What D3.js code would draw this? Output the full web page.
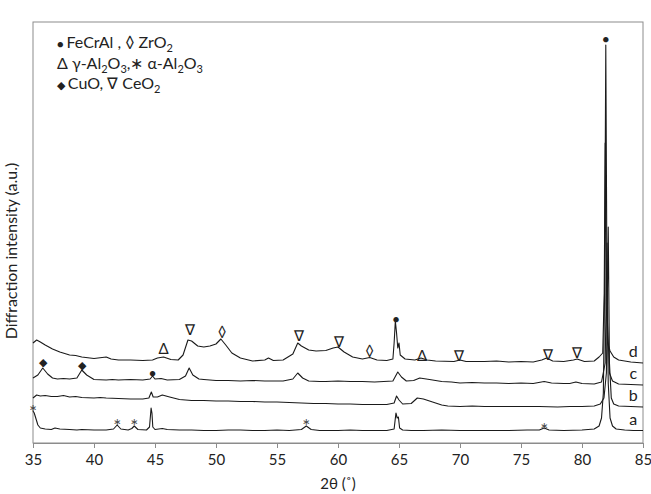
<!DOCTYPE html>
<html>
<head>
<meta charset="utf-8">
<script src="https://cdn.jsdelivr.net/npm/d3@7"></script>
<style>
  body { margin: 0; background: #fff; }
  text { font-family: Lato, "Open Sans", sans-serif; fill: #222; }
</style>
</head>
<body>
<svg id="chart" width="651" height="494"></svg>
<script>

// x ticks (2 theta, degrees)
const xTicks = [35, 40, 45, 50, 55, 60, 65, 70, 75, 80, 85];

// Traces, [2theta, intensity a.u.]
const traceA = [
	[35.0, 32], [35.1, 30], [35.25, 24], [35.4, 18], [35.6, 15], [36, 14], [36.5, 13.5], [36.8, 15],
	[37.2, 14], [38, 13.5], [38.6, 13], [39, 13.5], [40, 13], [41, 13], [41.6, 14], [41.9, 18],
	[42.2, 14], [42.8, 13], [43.1, 14.5], [43.3, 17], [43.6, 13.5], [44.3, 13], [44.55, 16],
	[44.68, 35], [44.75, 30], [44.82, 16], [45, 13.5], [45.6, 14.5], [46, 13.5], [47, 13],
	[48, 13], [49, 12.5], [50, 12.5], [51, 13], [52, 13], [53, 12.5], [54, 12.5], [55, 13],
	[56, 12.5], [57, 13.5], [57.4, 17], [57.8, 13.5], [58.5, 12.5], [60, 12.5], [61, 13],
	[62, 12.5], [63, 12.5], [64, 12.5], [64.6, 14], [64.75, 30], [64.85, 25], [64.95, 26],
	[65.05, 15], [65.3, 13], [66, 12.5], [67, 12.5], [68.5, 13], [70, 12.5], [72, 12.5],
	[74, 12.5], [75.5, 13], [76.5, 13], [76.9, 15], [77.3, 13], [78.5, 12.5], [80, 13],
	[81, 14], [81.4, 17], [81.6, 25], [81.75, 50], [81.85, 150], [81.95, 398], [82.05, 150],
	[82.15, 60], [82.3, 25], [82.5, 17], [82.8, 14], [83.5, 13], [84.2, 12.5], [85, 12.5]
];

const traceB = [
	[35, 45], [35.3, 48], [35.6, 47], [36, 47.5], [36.5, 46.5], [37, 46.5], [37.5, 47.5],
	[38, 46], [38.5, 46.5], [39, 45.5], [40, 45], [40.5, 45.5], [41, 45], [42, 44.5], [43, 44],
	[44, 44], [44.5, 45], [44.7, 51], [44.85, 46], [45.2, 46], [45.6, 48], [46.2, 46], [47, 43.5],
	[48, 42.5], [49, 42.5], [50, 42], [51, 42], [52, 41.5], [53, 41.5], [54, 41], [55, 41],
	[56, 40.5], [57, 40], [58, 39.5], [59, 39.5], [60, 39], [61, 39], [62, 38.5], [63, 38.5],
	[64, 38.5], [64.6, 40], [64.8, 47], [65, 43], [65.3, 39], [66, 39.5], [66.5, 45], [67, 44],
	[67.5, 42], [68, 40], [68.5, 38], [69, 37], [70, 36.5], [71, 37], [72, 36.5], [73.5, 36.5],
	[75, 36.5], [76.5, 36.5], [78, 36], [79, 36.5], [80, 36.5], [81, 37], [81.5, 39], [81.8, 45],
	[82, 70], [82.15, 216], [82.25, 80], [82.4, 45], [82.6, 39], [83, 37], [84, 36.5], [85, 36]
];

const traceC = [
	[35, 65], [35.4, 68], [35.8, 75], [36.2, 69], [36.6, 65], [37, 64], [37.5, 64.5], [38, 64],
	[38.6, 65], [39, 73], [39.4, 68], [40, 63.5], [41, 63], [41.5, 63.5], [42, 63], [43, 63.5],
	[44, 63], [44.6, 64], [44.8, 67], [45, 64], [45.5, 64.5], [46, 63], [47, 63.5], [47.5, 67],
	[47.8, 75], [48.1, 68], [48.6, 64], [49, 63.5], [50, 62.5], [51, 62.5], [52, 62], [53, 62.5],
	[54, 62], [55.5, 62], [56.3, 64], [56.7, 70], [57.1, 65], [57.6, 62], [58.5, 61.5], [59, 61.5],
	[60, 62], [61, 61.5], [62, 61.5], [63, 61], [64.5, 62], [64.9, 71], [65.2, 66], [65.6, 62],
	[66.2, 62.5], [66.7, 65], [67.5, 63.5], [68.5, 61.5], [69.3, 61], [70, 60], [71, 60.5],
	[72, 60], [73, 60], [74, 59.5], [75, 60], [76, 59.5], [76.9, 61.5], [77.5, 60], [78.5, 59.5],
	[79, 59.5], [79.5, 61], [80, 59.5], [81, 59], [81.6, 61], [81.9, 80], [82.0, 160], [82.05, 200],
	[82.1, 120], [82.25, 70], [82.5, 62], [83, 59], [84, 58.5], [85, 58]
];

const traceD = [
	[35, 100], [35.3, 103], [35.6, 101], [36, 98], [36.6, 94], [37.2, 91], [38, 88], [38.5, 87.5],
	[39, 86], [40, 84.5], [41, 86], [41.4, 84], [42, 83], [43, 83], [44, 82.5], [44.8, 83],
	[45.2, 85], [45.7, 86], [46.3, 83.5], [46.9, 83], [47.3, 88], [47.7, 103], [48, 102],
	[48.5, 97], [49, 96], [49.5, 97], [50, 99], [50.4, 104], [50.8, 98], [51.3, 90], [52, 85],
	[53, 82], [54, 83], [54.3, 85], [54.7, 82.5], [55.5, 83], [56.3, 89], [56.7, 100], [57, 97],
	[57.6, 93], [58.2, 92], [59, 92.5], [59.6, 95], [60, 96], [60.5, 91], [61.2, 86], [62, 84],
	[62.6, 85.5], [63.2, 83], [64, 82.5], [64.5, 84], [64.6, 100], [64.7, 122], [64.8, 110],
	[64.9, 95], [65.0, 100], [65.1, 88], [65.5, 84], [66.3, 83], [66.8, 85], [67.3, 83], [68, 82],
	[69.5, 81.5], [70, 83], [70.5, 81.5], [72, 81.5], [73, 82], [74, 81], [75, 81.5], [76, 81],
	[76.7, 83], [77.1, 85], [77.6, 82], [78.5, 81.5], [79.3, 83], [79.6, 84], [80.2, 81.5],
	[81, 82], [81.4, 86], [81.7, 90], [81.82, 150], [81.9, 300], [81.98, 140], [82.1, 100],
	[82.3, 92], [82.6, 86], [83, 83], [84, 81], [85, 80]
];

const traceNames = ["a", "b", "c", "d"];
const traces = [traceA, traceB, traceC, traceD];

// Phase markers: [symbol, 2theta, intensity]
const markers = [
	["*", 35.0, 36], ["*", 41.9, 22], ["*", 43.3, 22], ["*", 57.4, 22], ["*", 76.9, 18],
	["◆", 35.8, 82], ["◆", 39.0, 79], ["●", 44.8, 71],
	["Δ", 45.7, 95], ["∇", 47.9, 114], ["◊", 50.5, 112], ["∇", 56.8, 108], ["∇", 60.1, 102],
	["◊", 62.6, 93], ["●", 64.75, 125], ["Δ", 66.9, 88], ["∇", 69.9, 88], ["∇", 77.2, 89],
	["∇", 79.6, 91], ["●", 81.95, 405]
];

// Layout
const plotLeft = 33, plotRight = 643, plotTop = 22, plotBottom = 443;

const svg = d3.select("#chart");

const xScale = d3.scaleLinear()
				.domain([35, 85])
				.range([plotLeft, plotRight]);

const yScale = d3.scaleLinear()
				.domain([0, plotBottom - plotTop])
				.range([plotBottom, plotTop]);

// Frame
svg.append("rect")
	.attr("x", plotLeft)
	.attr("y", plotTop)
	.attr("width", plotRight - plotLeft)
	.attr("height", plotBottom - plotTop)
	.attr("fill", "none")
	.attr("stroke", "#8c8c8c")
	.attr("stroke-width", 1);

// X axis
const xAxis = d3.axisBottom(xScale)
				.tickValues(xTicks)
				.tickSize(5)
				.tickPadding(6)
				.tickFormat(d3.format("d"));

const gx = svg.append("g")
	.attr("transform", "translate(0," + plotBottom + ")")
	.call(xAxis);

gx.select(".domain").attr("stroke", "#8c8c8c");
gx.selectAll(".tick line").attr("stroke", "#8c8c8c");
gx.selectAll(".tick text")
	.attr("font-family", "Lato, 'Open Sans', sans-serif")
	.attr("font-size", 15)
	.attr("fill", "#222");

// Axis titles
svg.append("text")
	.attr("x", (plotLeft + plotRight) / 2)
	.attr("y", 489)
	.attr("text-anchor", "middle")
	.attr("font-size", 15)
	.text("2θ (˚)");

svg.append("text")
	.attr("transform", "translate(17,251) rotate(-90)")
	.attr("text-anchor", "middle")
	.attr("font-size", 16)
	.text("Diffraction intensity (a.u.)");

// Traces
const line = d3.line()
			.x(d => xScale(d[0]))
			.y(d => yScale(d[1]));

svg.selectAll(".trace")
	.data(traces)
	.enter()
	.append("path")
		.attr("class", "trace")
		.attr("d", line)
		.attr("fill", "none")
		.attr("stroke", "#1a1a1a")
		.attr("stroke-width", 1.1)
		.attr("stroke-linejoin", "round");

// Trace labels at right end
svg.selectAll(".trace-label")
	.data(traces)
	.enter()
	.append("text")
		.attr("class", "trace-label")
		.attr("x", xScale(84.2))
		.attr("y", d => yScale(d[d.length - 1][1]) - 6)
		.attr("text-anchor", "middle")
		.attr("font-size", 16)
		.text((d, i) => traceNames[i]);

// Peak markers
svg.selectAll(".marker")
	.data(markers)
	.enter()
	.append("text")
		.attr("class", "marker")
		.attr("x", d => xScale(d[1]))
		.attr("y", d => yScale(d[2]))
		.attr("dy", d => d[0] === "*" ? 4 : 0)
		.attr("text-anchor", "middle")
		.attr("dominant-baseline", "central")
		.attr("font-family", "'DejaVu Sans', sans-serif")
		.attr("font-size", d => d[0] === "*" ? 19 : (d[0] === "●" || d[0] === "◆" ? 11 : 15))
		.style("fill", d => d[0] === "*" ? "#444" : "#222")
		.text(d => d[0]);

// Legend
const legend = svg.append("text")
	.attr("x", 57)
	.attr("y", 48)
	.attr("font-size", 16);

const l1 = legend.append("tspan").attr("x", 57).attr("y", 48);
l1.append("tspan").attr("font-size", 11).text("● ");
l1.append("tspan").text("FeCrAl , ◊ ZrO");
l1.append("tspan").attr("font-size", 11).attr("dy", 4).text("2");

const l2 = legend.append("tspan").attr("x", 57).attr("y", 69);
l2.append("tspan").text("Δ γ-Al");
l2.append("tspan").attr("font-size", 11).attr("dy", 4).text("2");
l2.append("tspan").attr("dy", -4).text("O");
l2.append("tspan").attr("font-size", 11).attr("dy", 4).text("3");
l2.append("tspan").attr("dy", -4).text(",∗ α-Al");
l2.append("tspan").attr("font-size", 11).attr("dy", 4).text("2");
l2.append("tspan").attr("dy", -4).text("O");
l2.append("tspan").attr("font-size", 11).attr("dy", 4).text("3");

const l3 = legend.append("tspan").attr("x", 57).attr("y", 89);
l3.append("tspan").attr("font-size", 11).text("◆ ");
l3.append("tspan").text(" CuO, ∇ CeO");
l3.append("tspan").attr("font-size", 11).attr("dy", 4).text("2");

</script>
</body>
</html>
